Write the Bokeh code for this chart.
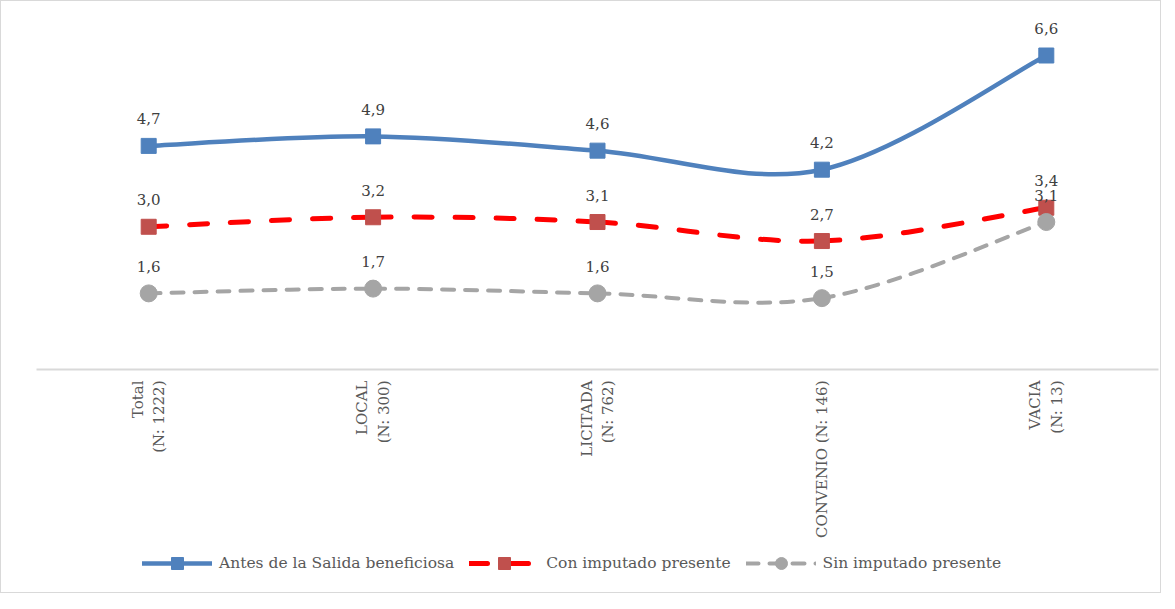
import math
from bokeh.plotting import figure
from bokeh.layouts import column
from bokeh.models import FixedTicker, Legend, LegendItem, ColumnDataSource, Range1d
from bokeh.core.properties import value
from bokeh.embed import file_html
from bokeh.resources import INLINE

# ---- data ----
categories = ["Total\n(N: 1222)", "LOCAL\n(N: 300)", "LICITADA\n(N: 762)",
              "CONVENIO (N: 146)", "VACIA\n(N: 13)"]
antes = [4.7, 4.9, 4.6, 4.2, 6.6]
con_imputado = [3.0, 3.2, 3.1, 2.7, 3.4]
sin_imputado = [1.6, 1.7, 1.6, 1.5, 3.1]
series_names = ["Antes de la Salida beneficiosa", "Con imputado presente",
                "Sin imputado presente"]

FONT = "DejaVu Serif"
xs = list(range(len(categories)))


def smooth_segments(x, y):
    """Bezier control points for an Excel-style smoothed line through the data."""
    n = len(x)
    d = dict(x0=[], y0=[], x1=[], y1=[], cx0=[], cy0=[], cx1=[], cy1=[])
    for i in range(n - 1):
        a = i - 1 if i > 0 else i
        b = i + 2 if i + 2 < n else i + 1
        d["x0"].append(x[i]); d["y0"].append(y[i])
        d["x1"].append(x[i + 1]); d["y1"].append(y[i + 1])
        d["cx0"].append(x[i] + (x[i + 1] - x[a]) / 6)
        d["cy0"].append(y[i] + (y[i + 1] - y[a]) / 6)
        d["cx1"].append(x[i + 1] - (x[b] - x[i]) / 6)
        d["cy1"].append(y[i + 1] - (y[b] - y[i]) / 6)
    return ColumnDataSource(d)


p = figure(width=1159, height=540, output_backend="svg", toolbar_location=None,
           x_range=Range1d(-0.5, 4.5), y_range=Range1d(0, 7.63),
           min_border_left=35, min_border_right=2, min_border_top=5,
           min_border_bottom=172)
p.outline_line_color = None
p.xgrid.visible = False
p.ygrid.visible = False
p.yaxis.visible = False

ax = p.xaxis[0]
ax.ticker = FixedTicker(ticks=xs)
ax.major_label_overrides = {i: c for i, c in enumerate(categories)}
ax.major_label_orientation = math.pi / 2
ax.major_tick_line_color = None
ax.minor_tick_line_color = None
ax.axis_line_color = "#d9d9d9"
ax.axis_line_width = 2
ax.major_label_standoff = 5
ax.major_label_text_font = FONT
ax.major_label_text_font_size = "15px"
ax.major_label_text_color = "#595959"

styles = [
    dict(vals=antes, line_color="#4f81bd", dash="solid", lw=4.5, marker="square",
         mcolor="#4f81bd", msize=15),
    dict(vals=con_imputado, line_color="#ff0000", dash="18 23", lw=5, marker="square",
         mcolor="#c0504d", msize=15),
    dict(vals=sin_imputado, line_color="#a5a5a5", dash="12 11", lw=4, marker="circle",
         mcolor="#a5a5a5", msize=17),
]

# legend strip as a separate small figure
lg = figure(width=1159, height=51, output_backend="svg", toolbar_location=None,
            x_range=Range1d(0, 1), y_range=Range1d(0, 1),
            x_axis_location=None, y_axis_location=None,
            min_border_left=0, min_border_right=0, min_border_top=0,
            min_border_bottom=0)
lg.outline_line_color = None
lg.grid.visible = False

items = []
for name, s in zip(series_names, styles):
    src = smooth_segments(xs, s["vals"])
    p.bezier(x0="x0", y0="y0", x1="x1", y1="y1", cx0="cx0", cy0="cy0",
             cx1="cx1", cy1="cy1", source=src, line_color=s["line_color"],
             line_width=s["lw"], line_dash=s["dash"], line_cap="round")
    p.scatter(x=xs, y=s["vals"], marker=s["marker"], size=s["msize"],
              fill_color=s["mcolor"], line_color=s["mcolor"])
    labels = [f"{v:.1f}".replace(".", ",") for v in s["vals"]]
    p.text(x=xs, y=s["vals"], text=labels, text_font=value(FONT),
           text_font_size="15px", text_color="#404040", text_align="center",
           text_baseline="alphabetic", y_offset=-27)
    # legend proxies (no visible data)
    dl = lg.line(x=[float("nan")], y=[float("nan")], line_color=s["line_color"],
                 line_width=s["lw"], line_dash=s["dash"], line_cap="round")
    ds = lg.scatter(x=[float("nan")], y=[float("nan")], marker=s["marker"],
                    size=s["msize"], fill_color=s["mcolor"], line_color=s["mcolor"])
    items.append(LegendItem(label=name, renderers=[dl, ds]))

legend = Legend(items=items, orientation="horizontal", location=(106, 14),
                glyph_width=70, glyph_height=30, label_standoff=7, spacing=15,
                padding=3, label_height=20, margin=0,
                label_text_font=FONT, label_text_font_size="15.5px",
                label_text_color="#595959", border_line_color=None,
                background_fill_alpha=0)
lg.add_layout(legend, "center")

layout = column(p, lg, spacing=0, styles={"border": "1px solid #d9d9d9"})
open("out.html", "w").write(file_html(layout, INLINE))
